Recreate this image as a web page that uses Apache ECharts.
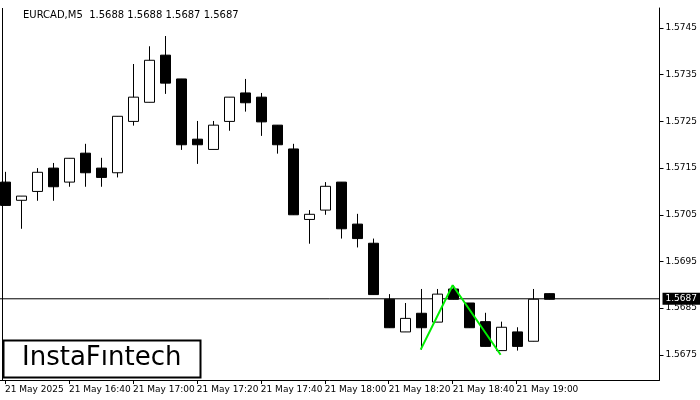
<!DOCTYPE html>
<html><head><meta charset="utf-8">
<script src="https://cdn.jsdelivr.net/npm/echarts@6/dist/echarts.min.js"></script>
<style>html,body{margin:0;padding:0;background:#fff}#c{width:700px;height:400px}</style>
</head><body><div id="c"></div>
<script>
const opens  = [1.57120,1.57081,1.57100,1.57150,1.57120,1.57182,1.57150,1.57140,1.57250,1.57291,1.57392,1.57341,1.57212,1.57190,1.57250,1.57311,1.57302,1.57242,1.57191,1.57040,1.57060,1.57120,1.57030,1.56989,1.56869,1.56799,1.56839,1.56820,1.56891,1.56861,1.56821,1.56759,1.56799,1.56779,1.56881];
const closes = [1.57070,1.57090,1.57141,1.57110,1.57171,1.57140,1.57130,1.57261,1.57302,1.57381,1.57332,1.57200,1.57200,1.57242,1.57302,1.57290,1.57249,1.57200,1.57050,1.57051,1.57111,1.57020,1.56999,1.56879,1.56808,1.56828,1.56808,1.56880,1.56869,1.56808,1.56768,1.56809,1.56768,1.56869,1.56869];
const highs  = [1.57142,1.57090,1.57150,1.57161,1.57171,1.57202,1.57172,1.57261,1.57373,1.57411,1.57433,1.57341,1.57251,1.57251,1.57302,1.57341,1.57311,1.57242,1.57202,1.57060,1.57120,1.57120,1.57052,1.56999,1.56880,1.56861,1.56891,1.56891,1.56899,1.56861,1.56840,1.56821,1.56809,1.56891,1.56881];
const lows   = [1.57070,1.57020,1.57080,1.57080,1.57110,1.57110,1.57110,1.57130,1.57241,1.57291,1.57309,1.57189,1.57159,1.57190,1.57230,1.57271,1.57219,1.57181,1.57050,1.56988,1.57050,1.56999,1.56980,1.56879,1.56808,1.56799,1.56761,1.56820,1.56869,1.56808,1.56768,1.56759,1.56759,1.56779,1.56869];
const timeLabels = ["21 May 2025","21 May 16:40","21 May 17:00","21 May 17:20","21 May 17:40","21 May 18:00","21 May 18:20","21 May 18:40","21 May 19:00"];
const labelIdx = [0,4,8,12,16,20,24,28,32];
const yTicks = [1.5675,1.5685,1.5695,1.5705,1.5715,1.5725,1.5735,1.5745];
const patternX = [26,28,31];
const patternY = [1.56761,1.56899,1.56750];
const lastPrice = 1.5687;
const title = "EURCAD,M5  1.5688 1.5688 1.5687 1.5687";

const candleData = opens.map((o,i)=>[i,o,closes[i],highs[i],lows[i]]);
const chart = echarts.init(document.getElementById('c'));
chart.setOption({
  animation:false,
  grid:{left:0,right:40,top:8,bottom:20},
  title:{text:title,left:18,top:5,textStyle:{fontSize:10,fontWeight:'normal',color:'#000',fontFamily:'DejaVu Sans'}},
  xAxis:{type:'value',min:-0.3125,max:40.9375,
    axisLine:{onZero:false,lineStyle:{color:'#000'}},splitLine:{show:false},
    axisTick:{customValues:labelIdx,length:4,lineStyle:{color:'#000'}},
    axisLabel:{customValues:labelIdx,formatter:v=>timeLabels[labelIdx.indexOf(Math.round(v))]||'',
      align:'left',margin:5,fontSize:9,color:'#000',fontFamily:'DejaVu Sans'}},
  yAxis:{type:'value',position:'right',min:1.56696,max:1.57493,
    axisLine:{show:true,onZero:false,lineStyle:{color:'#000'}},splitLine:{show:false},
    axisTick:{show:true,customValues:yTicks,length:4,lineStyle:{color:'#000'}},
    axisLabel:{customValues:yTicks,formatter:v=>v.toFixed(4),margin:6,fontSize:9,color:'#000',fontFamily:'DejaVu Sans'}},
  graphic:[
    {type:'line',shape:{x1:2.5,y1:8,x2:2.5,y2:380},style:{stroke:'#000',lineWidth:1}},
    {type:'rect',shape:{x:3.5,y:340.5,width:197,height:37},style:{fill:'#fff',stroke:'#000',lineWidth:2},z:50},
    {type:'text',left:22,top:345,style:{text:'InstaFıntech',font:'26px "DejaVu Sans"',fill:'#000'},z:51}
  ],
  series:[
    {type:'custom',clip:true,data:candleData,dimensions:['i','o','c','h','l'],encode:{x:0,y:[1,2,3,4]},
     renderItem:(params,api)=>{
       const i=api.value(0),o=api.value(1),c=api.value(2),h=api.value(3),l=api.value(4);
       const po=api.coord([i,o]),pc=api.coord([i,c]),ph=api.coord([i,h]),pl=api.coord([i,l]);
       const x=Math.round(po[0])+0.5;
       const top=Math.min(po[1],pc[1]),bot=Math.max(po[1],pc[1]);
       const bull=c>o;
       return {type:'group',children:[
         {type:'line',shape:{x1:x,y1:ph[1],x2:x,y2:pl[1]},style:{stroke:'#000',lineWidth:1}},
         {type:'rect',shape:{x:x-5,y:top,width:10,height:Math.max(bot-top,1)},style:{fill:bull?'#fff':'#000',stroke:'#000',lineWidth:1}}
       ]};
     }},
    {type:'line',data:patternX.map((x,i)=>[x,patternY[i]]),symbol:'none',lineStyle:{color:'#00ee00',width:2},z:5},
    {type:'line',data:[[-0.3125,lastPrice],[40.9375,lastPrice]],symbol:'none',lineStyle:{color:'#000',width:1},z:1,
     endLabel:{show:true,formatter:lastPrice.toFixed(4),backgroundColor:'#000',color:'#fff',fontSize:9,fontFamily:'DejaVu Sans',padding:[2,3,1,3],distance:3}}
  ]
});
</script></body></html>
